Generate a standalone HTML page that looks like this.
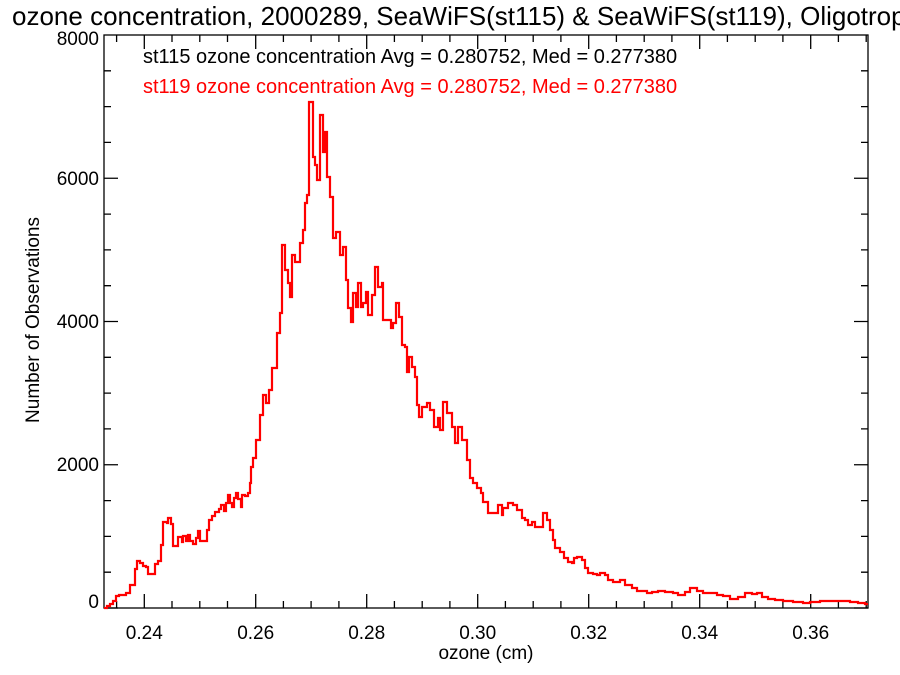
<!DOCTYPE html>
<html><head><meta charset="utf-8"><style>
body{margin:0;background:#fff}
svg{display:block}
text{font-family:"Liberation Sans",sans-serif}
</style></head><body>
<svg width="900" height="675" viewBox="0 0 900 675" xmlns="http://www.w3.org/2000/svg">
<rect width="900" height="675" fill="#fff"/>
<text x="12" y="25" font-size="26" fill="#000">ozone concentration, 2000289, SeaWiFS(st115) &amp; SeaWiFS(st119), Oligotrophic</text>
<text x="143" y="63" font-size="20" fill="#000">st115 ozone concentration Avg = 0.280752, Med = 0.277380</text>
<text x="143" y="93" font-size="20" fill="#ff0000">st119 ozone concentration Avg = 0.280752, Med = 0.277380</text>
<g stroke="#000" stroke-width="1.3" fill="none">
<rect x="104" y="35" width="764" height="573"/>
<path d="
M104 608h14M868 608h-14M104 464.75h14M868 464.75h-14M104 321.5h14M868 321.5h-14M104 178.25h14M868 178.25h-14
M104 572.2h7M104 536.4h7M104 500.6h7M104 428.9h7M104 393.1h7M104 357.3h7M104 285.7h7M104 249.9h7M104 214.1h7M104 142.4h7M104 106.6h7M104 70.8h7
M868 572.2h-7M868 536.4h-7M868 500.6h-7M868 428.9h-7M868 393.1h-7M868 357.3h-7M868 285.7h-7M868 249.9h-7M868 214.1h-7M868 142.4h-7M868 106.6h-7M868 70.8h-7"/>
<path d="
M144.3 608v-14M255.7 608v-14M366.7 608v-14M477.7 608v-14M588.7 608v-14M699.7 608v-14M810.7 608v-14
M144.3 35v14M255.7 35v14M366.7 35v14M477.7 35v14M588.7 35v14M699.7 35v14M810.7 35v14
M116.6 608v-7M172 608v-7M199.8 608v-7M227.5 608v-7M283.4 608v-7M311.1 608v-7M338.9 608v-7M394.4 608v-7M422.2 608v-7M449.9 608v-7M505.4 608v-7M533.2 608v-7M560.9 608v-7M616.4 608v-7M644.2 608v-7M671.9 608v-7M727.4 608v-7M755.2 608v-7M782.9 608v-7M838.4 608v-7M866.2 608v-7
M116.6 35v7M172 35v7M199.8 35v7M227.5 35v7M283.4 35v7M311.1 35v7M338.9 35v7M394.4 35v7M422.2 35v7M449.9 35v7M505.4 35v7M533.2 35v7M560.9 35v7M616.4 35v7M644.2 35v7M671.9 35v7M727.4 35v7M755.2 35v7M782.9 35v7M838.4 35v7M866.2 35v7"/>
</g>
<g font-size="19" text-anchor="end" fill="#000">
<text x="99" y="608">0</text><text x="99" y="471">2000</text><text x="99" y="328">4000</text><text x="99" y="185">6000</text><text x="99" y="45">8000</text>
</g>
<g font-size="19" text-anchor="middle" fill="#000">
<text x="144.3" y="639">0.24</text><text x="255.7" y="639">0.26</text><text x="366.7" y="639">0.28</text><text x="477.7" y="639">0.30</text><text x="588.7" y="639">0.32</text><text x="699.7" y="639">0.34</text><text x="810.7" y="639">0.36</text>
<text x="486" y="659">ozone (cm)</text>
<text transform="translate(39,320) rotate(-90)">Number of Observations</text>
</g>
<path fill="none" stroke="#ff0000" stroke-width="2.2" stroke-linejoin="miter" d="M104 608
H107V606H110V604H113V601H116V596H119V595H126V593H130V585H133V585H135V569H137V561H140V563H143V566H146V567H148V574H153V574H155V564H158V561H161V545H163V522H167V523H168V518H171V524H173V546H177V546H178V537H182V542H183V536H186V541H188V535H190V541H193V544H196V538H198V531H200V541H205V541H207V530H209V520H212V516H215V512H219V509H221V505H224V511H226V503H228V495H230V503H232V507H234V498H236V493H238V499H241V507H242V495H245V496H248V493H250V483H251V467H253V458H256V440H260V415H263V395H266V403H269V390H272V368H277V333H280V313H282V245H285V270H288V283H290V297H292V255H295V262H300V243H303V230H305V203H307V195H309V102H313V157H315V165H317V180H320V115H323V152H325V132H327V177H330V197H333V238H336V232H340V255H343V247H346V280H348V308H351V322H353V293H356V307H358V283H361V307H363V303H366V292H368V315H372V295H375V267H378V287H382V283H383V320H387V320H391V328H393V323H396V303H399V317H402V345H405V347H407V372H409V357H412V367H415V377H417V405H419V417H422V407H427V403H430V410H434V427H438V418H440V430H443V402H447V413H452V427H455V443H458V427H462V440H467V460H470V478H473V483H477V488H481V493H483V502H488V513H493V513H498V505H502V515H503V508H508V503H513V505H517V510H522V518H525V520H528V525H532V522H535V527H543V513H547V520H550V530H553V540H555V548H560V552H564V558H568V562H572V563H574V558H577V557H582V560H585V568H588V573H593V574H597V575H600V573H605V575H608V580H613V582H620V580H625V585H632V588H637V591H642V591H647V593H652V592H658V591H665V592H673V593H678V595H685V592H690V588H697V591H703V593H710V593H717V595H723V596H730V599H738V597H745V593H752V594H757V593H762V597H768V599H775V600H783V601H793V602H803V603H810V602H820V601H830V601H840V601H850V602H858V603H865V604H868"/>
</svg>
</body></html>
